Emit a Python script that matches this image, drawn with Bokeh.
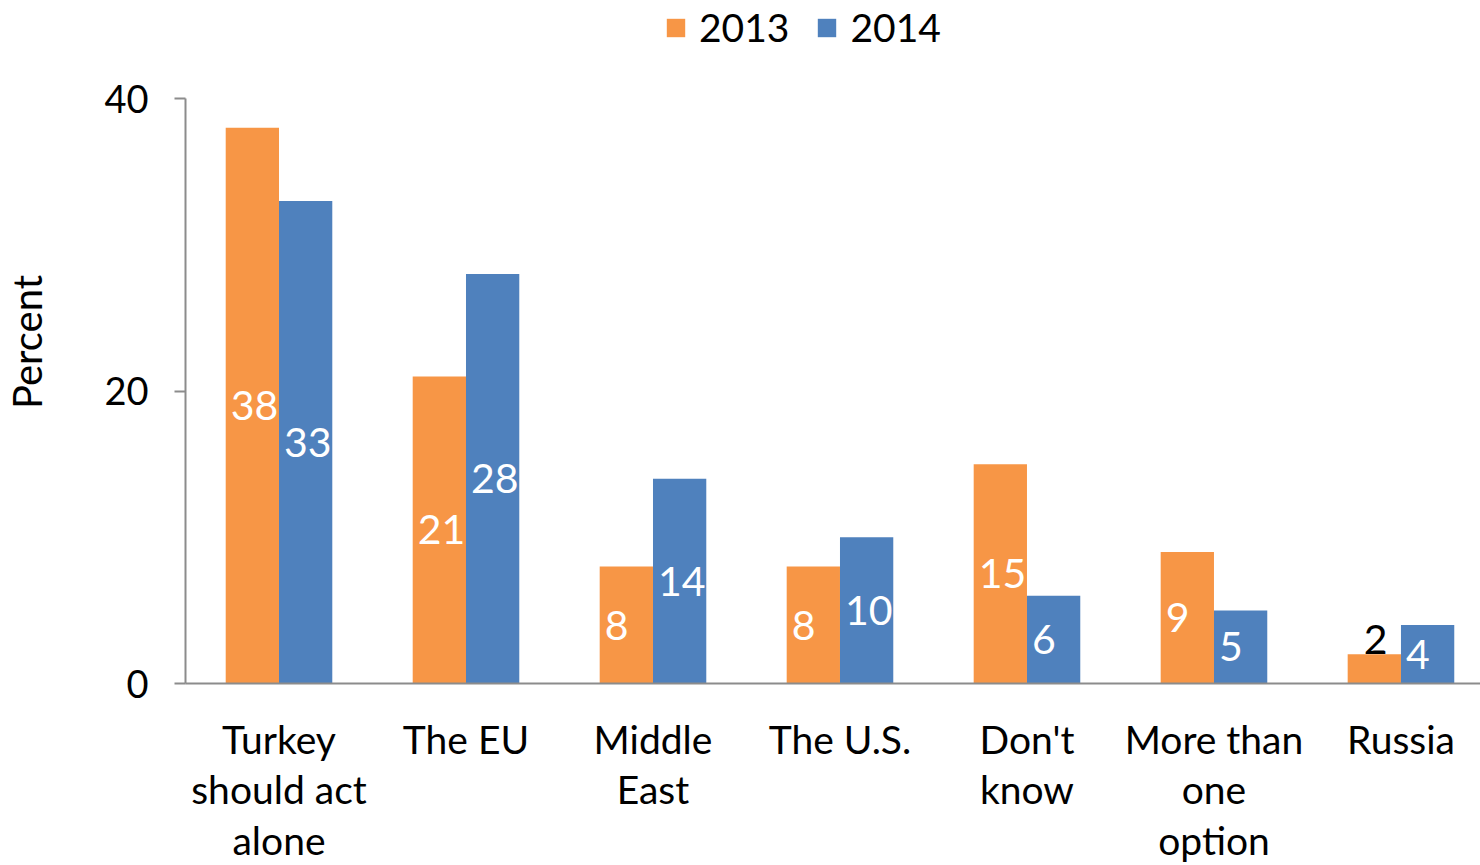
from bokeh.plotting import figure
from bokeh.models import Range1d, ColumnDataSource, Legend, LegendItem, FixedTicker
from bokeh.embed import file_html
from bokeh.resources import INLINE

categories = ["Turkey\nshould act\nalone", "The EU", "Middle\nEast", "The U.S.",
              "Don't\nknow", "More than\none\noption", "Russia"]
values_2013 = [38, 21, 8, 8, 15, 9, 2]
values_2014 = [33, 28, 14, 10, 6, 5, 4]
y_ticks = [0, 20, 40]
series_names = ["2013", "2014"]

ORANGE = "#F79646"
BLUE = "#4F81BD"
FONT = "Lato"
BAR_W = 0.285
SMALL = 3  # values below this get their label above the bar
Y_MAX = 40

centers = [i + 0.5 for i in range(len(categories))]

# the frame reaches the top of the page so that the legend can sit above the value axis
p = figure(frame_width=1297, frame_height=683, output_backend="svg", toolbar_location=None,
           x_range=Range1d(0, 6.936), y_range=Range1d(0, Y_MAX * 683 / 585))
p.min_border_left = 183
p.min_border_right = 0
p.min_border_top = 0
p.min_border_bottom = 174
p.outline_line_color = None
p.grid.visible = False

renderers = []
for vals, color, sign in ((values_2013, ORANGE, -1), (values_2014, BLUE, 1)):
    xs = [c + sign * BAR_W / 2 for c in centers]
    src = ColumnDataSource(dict(x=xs, top=vals))
    r = p.vbar(x="x", top="top", width=BAR_W, bottom=0, source=src,
               fill_color=color, line_color=None)
    renderers.append(r)
    inside = [(x - BAR_W / 2, v) for x, v in zip(xs, vals) if v >= SMALL]
    outside = [(x - BAR_W / 2, v) for x, v in zip(xs, vals) if v < SMALL]
    if inside:
        p.text(x=[a for a, _ in inside], y=[v / 2 for _, v in inside],
               text=[str(v) for _, v in inside], text_color="white",
               text_font={"value": FONT}, text_font_size="41px",
               text_align="left", text_baseline="middle", x_offset=5)
    if outside:
        p.text(x=[a for a, _ in outside], y=[v for _, v in outside],
               text=[str(v) for _, v in outside], text_color="black",
               text_font={"value": FONT}, text_font_size="41px",
               text_align="left", text_baseline="bottom", x_offset=16, y_offset=0)

# x axis
xa = p.xaxis[0]
xa.ticker = FixedTicker(ticks=centers)
xa.major_label_overrides = {c: lab for c, lab in zip(centers, categories)}
xa.major_tick_line_color = None
xa.minor_tick_line_color = None
xa.axis_line_color = "#8c8c8c"
xa.axis_line_width = 2
xa.major_label_text_font = FONT
xa.major_label_text_font_size = "39px"
xa.major_label_text_color = "black"
xa.major_label_standoff = 26
xa.major_label_text_line_height = 1.1

ya = p.yaxis[0]
ya.ticker = FixedTicker(ticks=y_ticks)
ya.bounds = (0, Y_MAX)
ya.minor_tick_line_color = None
ya.major_tick_in = 0
ya.major_tick_out = 11
ya.major_tick_line_color = "#8c8c8c"
ya.major_tick_line_width = 2
ya.axis_line_color = "#8c8c8c"
ya.axis_line_width = 2
ya.major_label_text_font = FONT
ya.major_label_text_font_size = "38px"
ya.major_label_text_color = "black"
ya.major_label_standoff = 26
ya.axis_label = "Percent"
ya.axis_label_text_font = FONT
ya.axis_label_text_font_size = "40px"
ya.axis_label_text_font_style = "normal"
ya.axis_label_text_color = "black"
ya.axis_label_standoff = 50

legend = Legend(items=[LegendItem(label=series_names[0], renderers=[renderers[0]]),
                       LegendItem(label=series_names[1], renderers=[renderers[1]])],
                orientation="horizontal", location=(479, 633),
                label_text_font=FONT, label_text_font_size="39px",
                label_text_color="black",
                glyph_width=23, glyph_height=23, spacing=26, label_standoff=12,
                border_line_color=None, background_fill_alpha=0, margin=0, padding=0)
p.add_layout(legend, "center")

open("out.html", "w").write(file_html(p, INLINE))
